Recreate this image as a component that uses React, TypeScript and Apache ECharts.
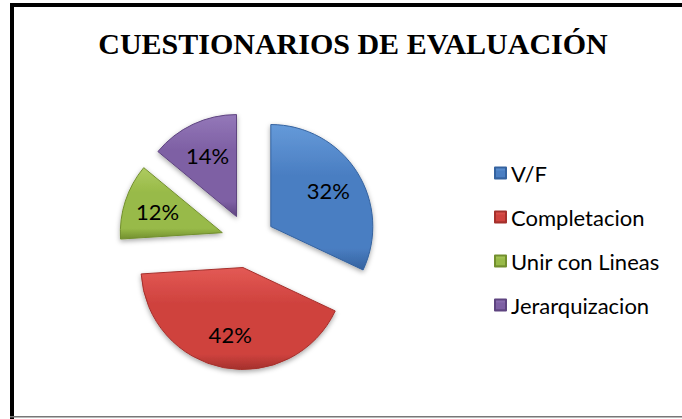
import React, { useEffect, useRef } from "react";
import * as echarts from "echarts";

const titleText = "CUESTIONARIOS DE EVALUACIÓN";
const categories = ["V/F", "Completacion", "Unir con Lineas", "Jerarquizacion"];
const values = [32, 42, 12, 14];
const baseColors = ["#4A7EC2", "#CF423E", "#98BA48", "#7E60A4"];
const lightColors = ["#659AD9", "#E35A55", "#AECB60", "#9478B9"];
const darkColors = ["#34629F", "#A4302C", "#728F2E", "#5E4480"];

export default function App() {
  const ref = useRef<HTMLDivElement>(null);
  useEffect(() => {
    if (!ref.current) return;
    const chart = echarts.init(ref.current, undefined, { renderer: "svg" });
    const grad = (i: number) =>
      new echarts.graphic.LinearGradient(0, 0, 0, 1, [
        { offset: 0, color: lightColors[i] },
        { offset: 0.35, color: baseColors[i] },
        { offset: 0.85, color: baseColors[i] },
        { offset: 1, color: darkColors[i] },
      ]);
    const mainData = categories.map((name, i) => ({
      name,
      value: values[i],
      selected: true,
      itemStyle: {
        color: grad(i),
        borderColor: darkColors[i],
        borderWidth: 1,
        shadowBlur: 5,
        shadowColor: "rgba(0,0,0,0.35)",
        shadowOffsetY: 2,
      },
    }));
    const labelData = categories.map((name, i) => ({
      name,
      value: values[i],
      selected: true,
    }));
    const sum = values.reduce((a, b) => a + b, 0);
    chart.setOption({
      animation: false,
      backgroundColor: "#ffffff",
      title: {
        text: titleText,
        left: 353,
        top: 28,
        padding: 0,
        textAlign: "center",
        textStyle: {
          fontFamily: "Liberation Serif",
          fontWeight: "bold",
          fontSize: 30,
          color: "#000",
          lineHeight: 30,
        },
      },
      legend: {
        orient: "vertical",
        left: 494,
        top: 161,
        padding: 0,
        itemWidth: 11,
        itemHeight: 11,
        itemGap: 20,
        icon: "rect",
        selectedMode: false,
        data: categories,
        textStyle: {
          fontFamily: "Lato",
          fontSize: 22,
          lineHeight: 24,
          color: "#000",
          padding: [0, 0, 0, 0],
        },
      },
      graphic: [
        { type: "rect", shape: { x: 10, y: 3, width: 4, height: 416 }, style: { fill: "#000" } },
        { type: "rect", shape: { x: 10, y: 3, width: 672, height: 4 }, style: { fill: "#000" } },
        { type: "rect", shape: { x: 10, y: 416, width: 672, height: 1.5 }, style: { fill: "#777" } },
      ],
      series: [
        {
          type: "pie",
          center: [248, 241],
          radius: [0, 102],
          startAngle: 90,
          clockwise: true,
          selectedMode: "multiple",
          selectedOffset: 27,
          silent: true,
          emphasis: { disabled: true },
          label: { show: false },
          labelLine: { show: false },
          data: mainData,
        },
        {
          type: "pie",
          center: [248, 241],
          radius: [0, 130],
          startAngle: 90,
          clockwise: true,
          selectedMode: "multiple",
          selectedOffset: 27,
          silent: true,
          emphasis: { disabled: true },
          itemStyle: { color: "rgba(0,0,0,0)" },
          label: {
            show: true,
            position: "inside",
            fontFamily: "Lato",
            fontSize: 22,
            color: "#000",
            formatter: (p: any) => Math.round((p.value / sum) * 100) + "%",
          },
          labelLine: { show: false },
          data: labelData,
        },
      ],
    });
    return () => chart.dispose();
  }, []);
  return (
    <div
      ref={ref}
      style={{ position: "fixed", left: 0, top: 0, width: 682, height: 419 }}
    />
  );
}
